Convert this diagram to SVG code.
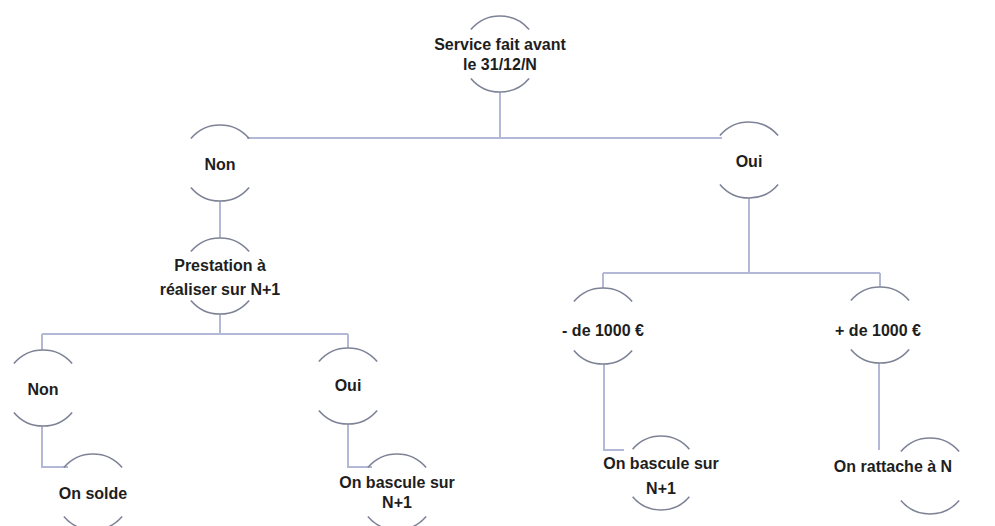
<svg xmlns="http://www.w3.org/2000/svg" width="995" height="526" viewBox="0 0 995 526">
<style>
.arc{fill:none;stroke:#7d8296;stroke-width:1.6;stroke-dasharray:0 40 100 80 100 40}
.lbl{font-family:"Liberation Sans",Arial,sans-serif;font-weight:bold;font-size:16px;fill:#1e1e1e;text-anchor:middle}
.con{fill:none;stroke:#b2b8d6;stroke-width:2}
</style>
<rect width="995" height="526" fill="#ffffff"/>
<g id="connectors">
<path class="con" d="M500,92 V138"/>
<path class="con" d="M247,138 H722"/>
<path class="con" d="M220,201 V238"/>
<path class="con" d="M220,314 V334"/>
<path class="con" d="M42,334 H348"/>
<path class="con" d="M42,334 V350"/>
<path class="con" d="M348,334 V348"/>
<path class="con" d="M42,426 V467 H68"/>
<path class="con" d="M348,424 V467 H372"/>
<path class="con" d="M749,198 V273"/>
<path class="con" d="M603,273 H880"/>
<path class="con" d="M603,273 V288"/>
<path class="con" d="M880,273 V287"/>
<path class="con" d="M604,364 V450 H624"/>
<path class="con" d="M879,363 V450"/>
</g>
<g id="n_root">
<circle class="arc" cx="500" cy="54" r="38" pathLength="360"/>
<text class="lbl" x="500" y="50">Service fait avant</text>
<text class="lbl" x="500" y="70">le 31/12/N</text>
</g>
<g id="n_non1">
<circle class="arc" cx="220" cy="163" r="38" pathLength="360"/>
<text class="lbl" x="220" y="170">Non</text>
</g>
<g id="n_oui1">
<circle class="arc" cx="749" cy="160" r="38" pathLength="360"/>
<text class="lbl" x="749" y="167">Oui</text>
</g>
<g id="n_prest">
<circle class="arc" cx="220" cy="276" r="38" pathLength="360"/>
<text class="lbl" x="220" y="271">Prestation à</text>
<text class="lbl" x="220" y="295">réaliser sur N+1</text>
</g>
<g id="n_non2">
<circle class="arc" cx="43" cy="388" r="38" pathLength="360"/>
<text class="lbl" x="43" y="395">Non</text>
</g>
<g id="n_oui2">
<circle class="arc" cx="348" cy="386" r="38" pathLength="360"/>
<text class="lbl" x="348" y="391">Oui</text>
</g>
<g id="n_solde">
<circle class="arc" cx="93" cy="492" r="38" pathLength="360"/>
<text class="lbl" x="93" y="499">On solde</text>
</g>
<g id="n_bascule1">
<circle class="arc" cx="397" cy="492" r="38" pathLength="360"/>
<text class="lbl" x="397" y="488">On bascule sur</text>
<text class="lbl" x="397" y="508">N+1</text>
</g>
<g id="n_moins">
<circle class="arc" cx="603" cy="326" r="38" pathLength="360"/>
<text class="lbl" x="603" y="336">- de 1000 €</text>
</g>
<g id="n_plus">
<circle class="arc" cx="880" cy="325" r="38" pathLength="360"/>
<text class="lbl" x="878" y="336">+ de 1000 €</text>
</g>
<g id="n_bascule2">
<circle class="arc" cx="661" cy="473" r="37" pathLength="360"/>
<text class="lbl" x="661" y="469">On bascule sur</text>
<text class="lbl" x="661" y="494">N+1</text>
</g>
<g id="n_rattache">
<circle class="arc" cx="930" cy="476" r="38" pathLength="360"/>
<text class="lbl" x="893" y="472">On rattache à N</text>
</g>
</svg>
